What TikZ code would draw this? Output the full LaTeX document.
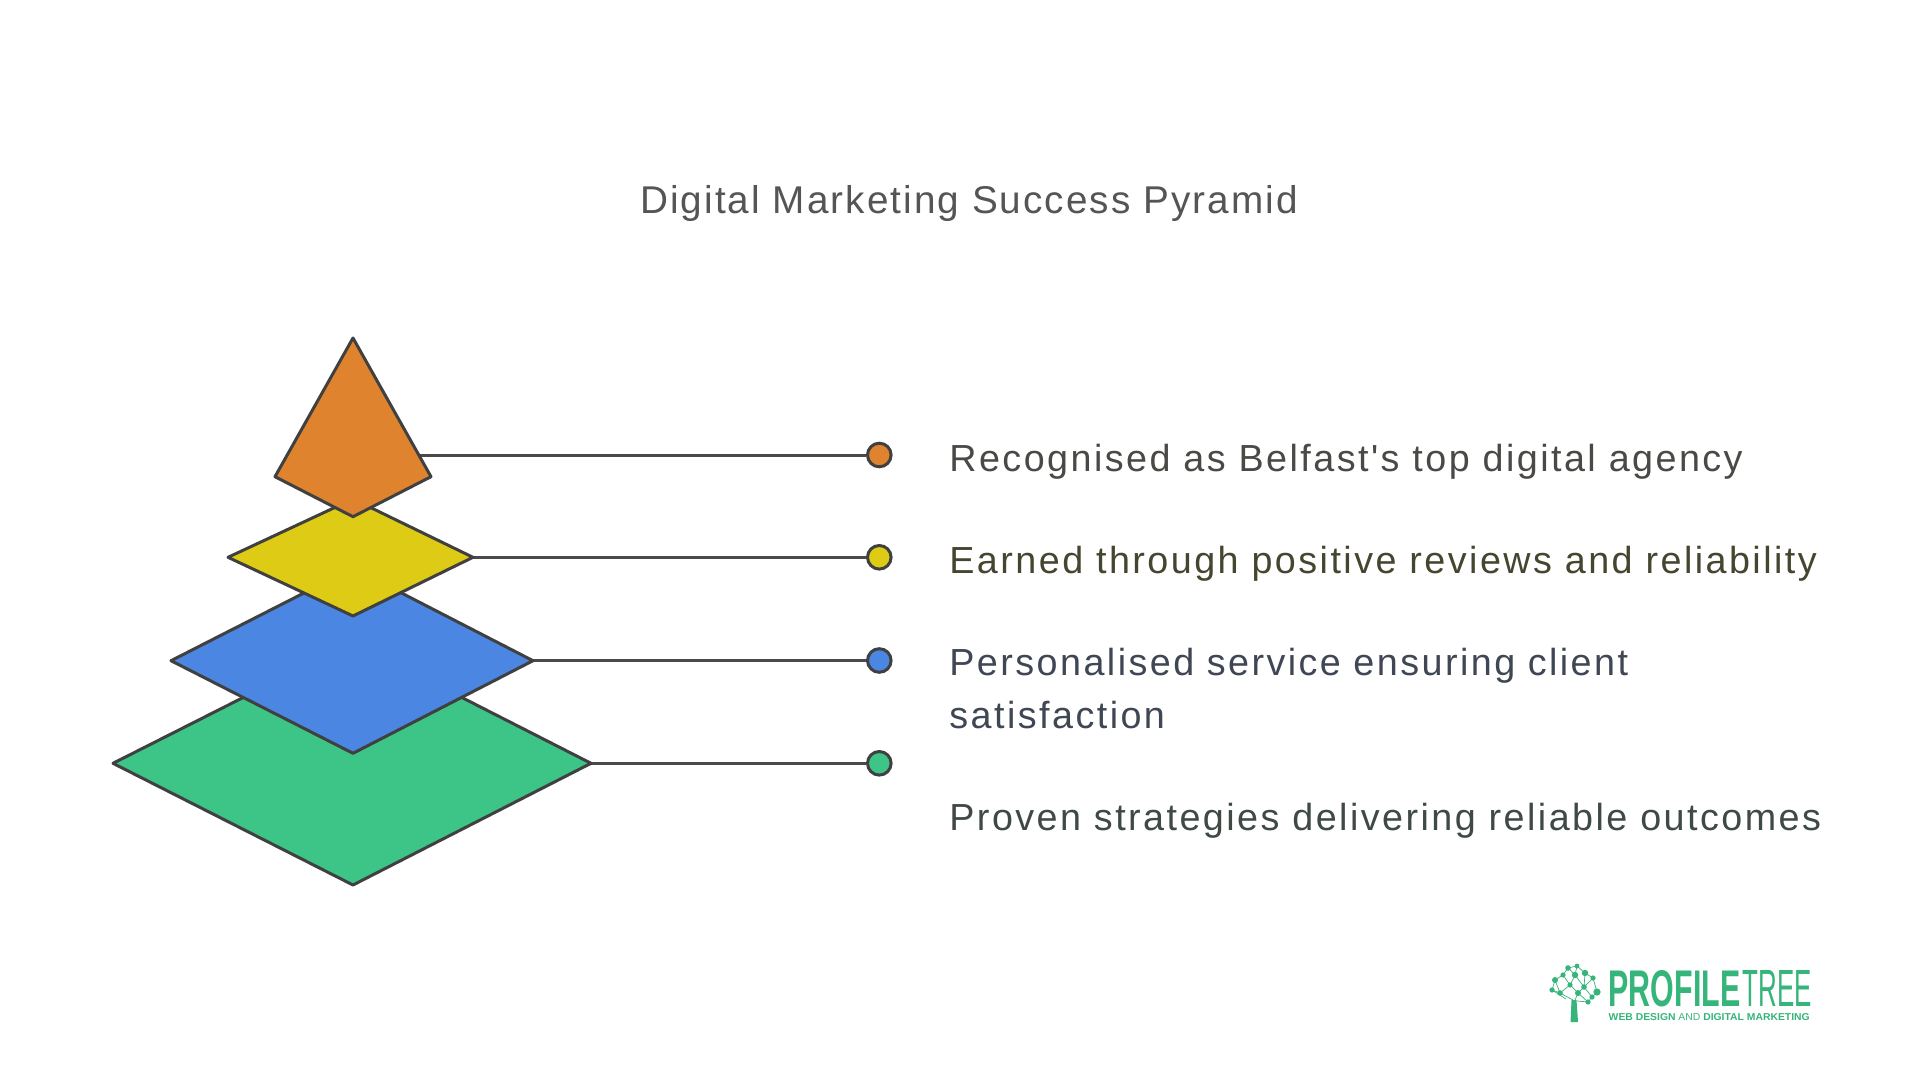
\documentclass[tikz,border=0pt]{standalone}
\usepackage{fontspec}
\usepackage{graphicx}
\setmainfont{Liberation Sans}
\newfontfamily\titlefont[LetterSpace=5.3]{Liberation Sans}
\newfontfamily\bodyfont[LetterSpace=6.5]{Liberation Sans}
\definecolor{cOrange}{HTML}{E0832F}
\definecolor{cYellow}{HTML}{DDCB16}
\definecolor{cBlue}{HTML}{4A86E2}
\definecolor{cGreen}{HTML}{3DC587}
\definecolor{cStroke}{HTML}{404040}
\definecolor{cLine}{HTML}{4A4A4A}
\definecolor{cTitle}{HTML}{555555}
\definecolor{tOrange}{HTML}{4B4946}
\definecolor{tYellow}{HTML}{46452F}
\definecolor{tBlue}{HTML}{3F4654}
\definecolor{tGreen}{HTML}{3F4A44}
\definecolor{cLogo}{HTML}{36B57A}
\tikzset{
  layer/.style={draw=cStroke, line width=1.5pt, line join=round},
  conn/.style={draw=cLine, line width=1.5pt},
  dot/.style={circle, draw=cStroke, line width=1.5pt, minimum size=11.8pt, inner sep=0pt},
  label/.style={anchor=base west, inner sep=0pt, font=\bodyfont\fontsize{18.85pt}{26.65pt}\selectfont},
  ttl/.style={anchor=base, inner sep=0pt, text=cTitle, font=\titlefont\fontsize{19.35pt}{24pt}\selectfont},
  logo/.style={anchor=base west, inner sep=0pt, text=cLogo},
  twig/.style={draw=cLogo, line width=0.35pt},
}
\begin{document}
\begin{tikzpicture}[x=0.5pt,y=-0.5pt]
\useasboundingbox (0,0) rectangle (1920,1080);
\fill[white] (0,0) rectangle (1920,1080);

% title
\node[ttl] (title) at (969,213.3) {Digital Marketing Success Pyramid};

% dots
\node[dot, fill=cOrange] (d1) at (879.3,455) {};
\node[dot, fill=cYellow] (d2) at (879.3,557.3) {};
\node[dot, fill=cBlue]   (d3) at (879.3,660.5) {};
\node[dot, fill=cGreen]  (d4) at (879.3,763.3) {};

% anchor points inside layers
\coordinate (c1) at (353,455);
\coordinate (c2) at (353,557.3);
\coordinate (c3) at (353,660.5);
\coordinate (c4) at (353,763.3);

% connectors
\draw[conn] (c1) -- (d1);
\draw[conn] (c2) -- (d2);
\draw[conn] (c3) -- (d3);
\draw[conn] (c4) -- (d4);

% pyramid layers
\filldraw[layer, fill=cGreen]  (113,763.3) -- (353,642) -- (591,763.3) -- (353,885) -- cycle;
\filldraw[layer, fill=cBlue]   (171,660.7) -- (353,568) -- (533,660.7) -- (353,753.3) -- cycle;
\filldraw[layer, fill=cYellow] (228,557.3) -- (353,499) -- (473,557.3) -- (353,616) -- cycle;
\filldraw[layer, fill=cOrange] (353,338) -- (431,476.7) -- (353,516.7) -- (275,476.7) -- cycle;

% labels
\node[label, text=tOrange] (t1) at (949,471.7) {Recognised as Belfast's top digital agency};
\node[label, text=tYellow] (t2) at (949,573.3) {Earned through positive reviews and reliability};
\node[label, text=tBlue, text width=420pt, align=left] (t3) at (949,675) {Personalised service ensuring client\\satisfaction};
\node[label, text=tGreen] (t4) at (949,830) {Proven strategies delivering reliable outcomes};

% logo text
\node[logo] (lg1) at (1608.3,1006.7) {\resizebox{65.8pt}{18pt}{\bfseries PROFILE}\hspace{1.3pt}\resizebox{34.6pt}{18pt}{TREE}};
\node[logo] (lg3) at (1608.3,1020.5) {\resizebox{100.5pt}{3.5pt}{\bfseries WEB DESIGN \mdseries AND \bfseries DIGITAL MARKETING}};

% logo tree icon
\fill[cLogo] (1570.5,1022) -- (1571.5,1000) -- (1576.5,1000) -- (1578,1022) -- cycle;
\foreach \xa/\ya/\xb/\yb in {1568/968/1577/966, 1577/966/1585/973, 1585/973/1593/978, 1593/978/1597/992,
  1597/992/1592/997, 1592/997/1584/987, 1584/987/1575/975, 1575/975/1568/968, 1568/968/1563/975,
  1563/975/1555/980, 1555/980/1552/990, 1552/990/1560/993, 1560/993/1570/985, 1570/985/1575/975,
  1570/985/1578/993, 1578/993/1584/987, 1578/993/1588/1002, 1588/1002/1592/997, 1584/987/1593/978,
  1563/975/1570/985, 1577/966/1575/975, 1585/973/1584/987, 1560/993/1573/1000, 1578/993/1575/1000,
  1588/1002/1577/1001, 1552/990/1566/999, 1555/980/1560/993}{
  \draw[twig] (\xa,\ya) -- (\xb,\yb);
}
\foreach \px/\py/\r in {1568/968/1.4, 1577/966/1.2, 1585/973/1.6, 1593/978/1.3, 1597/992/1.8,
  1592/997/1.3, 1584/987/1.4, 1575/975/1.6, 1563/975/1.3, 1555/980/1.5, 1552/990/1.3,
  1560/993/1.4, 1570/985/1.3, 1578/993/1.5, 1588/1002/1.3}{
  \fill[cLogo] (\px,\py) circle[radius=\r pt];
}
\end{tikzpicture}
\end{document}
